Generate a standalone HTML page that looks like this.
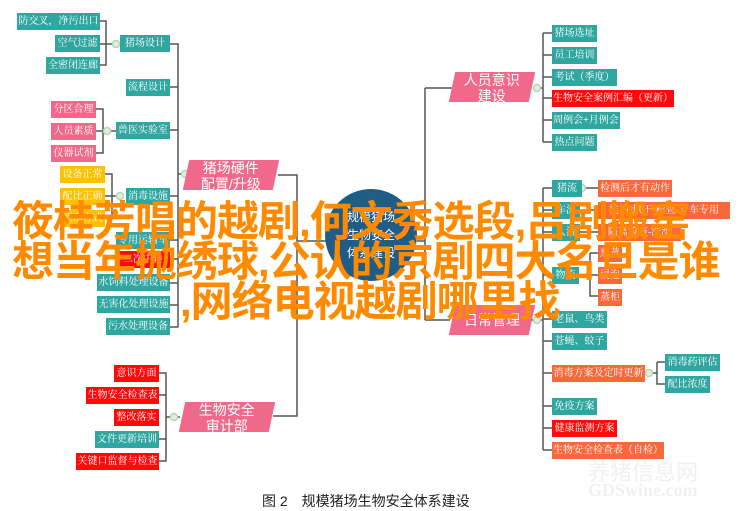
<!DOCTYPE html>
<html><head><meta charset="utf-8"><style>
body{margin:0;width:742px;height:511px;background:#fff;position:relative;overflow:hidden;font-family:"Liberation Serif","Noto Serif CJK SC",serif;}
.n{position:absolute;color:#fff;font-size:10px;line-height:17px;height:17px;text-align:center;white-space:nowrap;overflow:hidden;letter-spacing:0}
.t{background:#2fa6a0}.p{background:#f0698a}.r{background:#ff0a0a}.o{background:#f8683a}.y{background:#ffc000}
.pg{position:absolute;background:#f0698a;color:#fff;font-family:"Liberation Sans","Noto Sans CJK SC",sans-serif;font-size:14px;line-height:16px;text-align:center;transform:skewX(-12deg)}
.pg span{display:block;transform:skewX(12deg);padding-top:0}
.ov{position:absolute;color:#ff8a00;font-family:"Liberation Sans","Noto Sans CJK SC",sans-serif;font-weight:bold;font-size:42px;line-height:44px;white-space:nowrap;letter-spacing:-1px}
</style></head><body>
<svg width="742" height="511" style="position:absolute;left:0;top:0" fill="none" stroke="#555" stroke-width="1.5">
<path d="M100 21H106V65H100M100 44H116M170 44H178V327H170M170 87H178M170 130H178M170 196H178M170 240H178M170 259H178M170 283H178M170 305H178"/>
<path d="M96 109H103V153H96M96 131H116M105 174H112V218H105M105 196H120M178 174H184"/>
<path d="M278 175H297V416H273M297 241H326M417 241H425M425 88V320M425 88H452M425 320H450"/>
<path d="M159 373H166V461H159M166 395H159M166 417H180M166 439H159"/>
<path d="M538 88H543M543 33V142M543 33H552M543 55H552M543 77H552M543 98H552M543 120H552M543 142H552"/>
<path d="M532 320H543M543 188V450M543 188H552M543 210H552M543 232H552M543 275H552M543 319H552M543 341H552M543 373H552M543 406H552M543 428H552M543 450H552"/>
<path d="M582 188H598M580 210H598M580 232H598M579 275H590M590 253V296H598M590 253H598M590 275H598M645 373H657M657 362V384H665M657 362H665"/>
<circle cx="116" cy="44" r="3.5" fill="#dfeedd" stroke="#b8d4b4"/><circle cx="107" cy="131" r="3.5" fill="#dfeedd" stroke="#b8d4b4"/>
<circle cx="120" cy="196" r="3.5" fill="#dfeedd" stroke="#b8d4b4"/><circle cx="185" cy="174" r="3.5" fill="#dfeedd" stroke="#b8d4b4"/>
<circle cx="174" cy="417" r="3.5" fill="#dfeedd" stroke="#b8d4b4"/><circle cx="537" cy="88" r="3.5" fill="#dfeedd" stroke="#b8d4b4"/>
<circle cx="537" cy="320" r="3.5" fill="#dfeedd" stroke="#b8d4b4"/><circle cx="582" cy="188" r="3.5" fill="#dfeedd" stroke="#b8d4b4"/>
<circle cx="649" cy="373" r="3.5" fill="#dfeedd" stroke="#b8d4b4"/>
<circle cx="371" cy="235" r="46" fill="#1f5d86" stroke="none"/>
</svg>
<div style="position:absolute;left:325px;top:208px;width:92px;text-align:center;color:#fff;font-family:'Liberation Sans','Noto Sans CJK SC',sans-serif;font-size:12px;line-height:18px">规模猪场<br>生物安全<br>体系建设</div>
<div class="n t" style="left:17px;top:13px;width:83px">防交叉，净污出口</div>
<div class="n t" style="left:55px;top:35px;width:45px">空气过滤</div>
<div class="n t" style="left:46px;top:57px;width:54px">全密闭连廊</div>
<div class="n t" style="left:120px;top:35px;width:50px">猪场设计</div>
<div class="n t" style="left:126px;top:79px;width:44px">流程设计</div>
<div class="n p" style="left:51px;top:101px;width:45px">分区合理</div>
<div class="n p" style="left:51px;top:123px;width:45px">人员素质</div>
<div class="n p" style="left:51px;top:145px;width:45px">仪器试剂</div>
<div class="n t" style="left:116px;top:122px;width:54px">兽医实验室</div>
<div class="n y" style="left:60px;top:166px;width:45px">设备正常</div>
<div class="n y" style="left:60px;top:188px;width:45px">配比正确</div>
<div class="n y" style="left:60px;top:210px;width:45px">消毒方式</div>
<div class="n t" style="left:126px;top:188px;width:44px">消毒设施</div>
<div class="n t" style="left:116px;top:232px;width:54px">专用运输车</div>
<div class="n r" style="left:116px;top:251px;width:54px">二次中转</div>
<div class="n t" style="left:97px;top:274px;width:73px">水饲料处理设备</div>
<div class="n t" style="left:97px;top:296px;width:73px">无害化处理设施</div>
<div class="n t" style="left:106px;top:318px;width:64px">污水处理设备</div>
<div class="pg" style="left:186px;top:160px;width:90px;height:30px"><span>猪场硬件<br>配置/升级</span></div>
<div class="n r" style="left:114px;top:365px;width:45px">意识方面</div>
<div class="n r" style="left:86px;top:387px;width:73px">生物安全检查表</div>
<div class="n r" style="left:114px;top:409px;width:45px">整改落实</div>
<div class="n t" style="left:95px;top:431px;width:64px">文件更新培训</div>
<div class="n r" style="left:76px;top:453px;width:83px">关键口监督与检查</div>
<div class="pg" style="left:182px;top:402px;width:90px;height:30px"><span>生物安全<br>审计部</span></div>
<div class="pg" style="left:452px;top:72px;width:80px;height:30px"><span>人员意识<br>建设</span></div>
<div class="n t" style="left:552px;top:25px;width:45px">猪场选址</div>
<div class="n t" style="left:552px;top:47px;width:45px">员工培训</div>
<div class="n t" style="left:552px;top:69px;width:65px">考试（季度）</div>
<div class="n r" style="left:552px;top:90px;width:122px">生物安全案例汇编（更新）</div>
<div class="n t" style="left:552px;top:112px;width:68px">周例会+月例会</div>
<div class="n t" style="left:552px;top:134px;width:45px">热点问题</div>
<div class="pg" style="left:452px;top:305px;width:80px;height:30px"><span style="line-height:30px">日常管理</span></div>
<div class="n t" style="left:552px;top:180px;width:30px">猪流</div>
<div class="n o" style="left:598px;top:180px;width:74px">检测后才有动作</div>
<div class="n t" style="left:552px;top:202px;width:28px">车流</div>
<div class="n o" style="left:598px;top:202px;width:132px">洗消-烘干-检查-专车专用</div>
<div class="n t" style="left:552px;top:224px;width:28px">人流</div>
<div class="n o" style="left:598px;top:224px;width:83px">隔离检疫-洗澡</div>
<div class="n t" style="left:552px;top:267px;width:27px">物流</div>
<div class="n o" style="left:598px;top:245px;width:24px">熏蒸</div>
<div class="n o" style="left:598px;top:267px;width:24px">浸泡</div>
<div class="n o" style="left:598px;top:289px;width:24px">蒸柜</div>
<div class="n t" style="left:552px;top:311px;width:55px">老鼠、鸟类</div>
<div class="n t" style="left:552px;top:333px;width:55px">苍蝇、蚊子</div>
<div class="n o" style="left:552px;top:365px;width:93px">消毒方案及定时更新</div>
<div class="n t" style="left:665px;top:354px;width:55px">消毒药评估</div>
<div class="n t" style="left:665px;top:376px;width:45px">配比浓度</div>
<div class="n t" style="left:552px;top:398px;width:45px">免疫方案</div>
<div class="n r" style="left:552px;top:420px;width:65px">健康监测方案</div>
<div class="n o" style="left:552px;top:442px;width:112px">生物安全检查表（自检）</div>
<div style="position:absolute;left:262px;top:491px;font-family:'Liberation Sans','Noto Sans CJK SC',sans-serif;font-size:14px;color:#222">图 2　规模猪场生物安全体系建设</div>
<div style="position:absolute;left:588px;top:455px;color:#f0f0f0;font-size:22px;font-family:'Liberation Sans','Noto Sans CJK SC',sans-serif">养猪信息网</div>
<div style="position:absolute;left:588px;top:480px;color:#f0f0f0;font-size:18px;font-weight:bold;font-family:'Liberation Serif',serif">GDSwine.com</div>
<div class="ov" style="left:12px;top:200px">筱桂芳唱的越剧,何文秀选段,吕剧搬窑</div>
<div class="ov" style="left:12px;top:240px">想当年抛绣球,公认的京剧四大名旦是谁</div>
<div class="ov" style="left:180px;top:280px">,网络电视越剧哪里找</div>
</body></html>
